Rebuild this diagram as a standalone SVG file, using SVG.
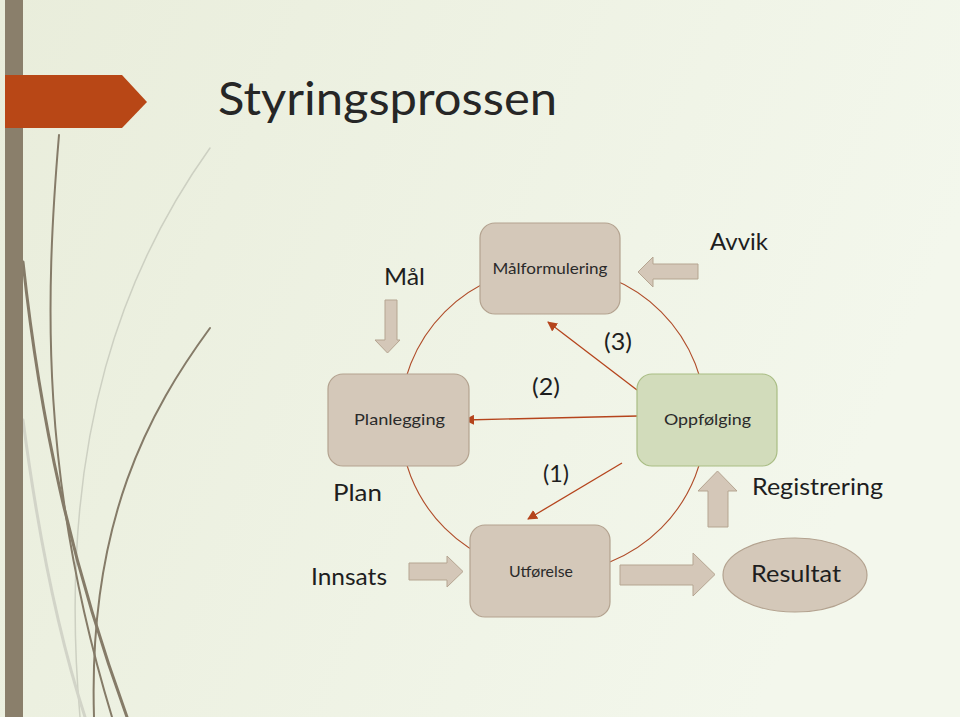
<svg xmlns="http://www.w3.org/2000/svg" width="960" height="717" viewBox="0 0 960 717">
<defs>
<linearGradient id="bg" x1="0" y1="0" x2="1" y2="0.3">
<stop offset="0" stop-color="#e9eddb"/>
<stop offset="1" stop-color="#f3f7ec"/>
</linearGradient>
<marker id="ah" viewBox="0 0 10 10" refX="9" refY="5" markerWidth="10" markerHeight="10" markerUnits="userSpaceOnUse" orient="auto">
<path d="M0,0 L10,5 L0,10 z" fill="#b5441c"/>
</marker>
<style>
.node{fill:#d4c8b9;stroke:#b3a28f;stroke-width:1.2}
.green{fill:#d2dcbb;stroke:#a9bd84;stroke-width:1.2}
.blk{fill:#d4c7b8;stroke:#b5a591;stroke-width:1}
.ntxt{font-family:Lato,"DejaVu Sans","Liberation Sans",sans-serif;font-size:15px;fill:#2a2a2a;text-anchor:middle}
.lbl{font-family:Lato,"DejaVu Sans","Liberation Sans",sans-serif;font-size:24px;fill:#1e1e1e}
.conn{stroke:#b5441c;stroke-width:1.3;fill:none}
.deco{fill:none;stroke-linecap:round}
</style>
</defs>
<rect width="960" height="717" fill="url(#bg)"/>
<g id="decoration">
<path class="deco" d="M210,148 C130,260 55,430 80,717" stroke="#cdd0c2" stroke-width="1.5"/>
<path class="deco" d="M23,420 C40,550 60,640 85,717" stroke="#d2d4c8" stroke-width="3"/>
<path class="deco" d="M59,135 C45,300 40,480 112,717" stroke="#857b68" stroke-width="2"/>
<path class="deco" d="M23,262 C40,420 70,560 127,717" stroke="#857b68" stroke-width="3"/>
<path class="deco" d="M210,328 C150,410 88,520 94,717" stroke="#857b68" stroke-width="2"/>
<rect x="5" y="0" width="18" height="717" fill="#8a7f6b"/>
<path d="M5,75 L122,75 L147,102 L122,128 L5,128 z" fill="#b84716"/>
</g>
<text id="title" x="218" y="115" font-family="Lato, DejaVu Sans, Liberation Sans, sans-serif" font-size="46" fill="#262626" textLength="339" lengthAdjust="spacingAndGlyphs">Styringsprossen</text>
<g id="connectors">
<circle cx="553" cy="420" r="153" fill="none" stroke="#b04d2a" stroke-width="1.1"/>
<line class="conn" x1="637" y1="390" x2="548" y2="322" marker-end="url(#ah)"/>
<line class="conn" x1="638" y1="416" x2="465" y2="420" marker-end="url(#ah)"/>
<line class="conn" x1="622" y1="463" x2="528" y2="519" marker-end="url(#ah)"/>
</g>
<g id="arrow-maal">
<path class="blk" d="M385,300 L397,300 L397,340 L400,340 L387.5,353 L375,340 L385,340 z"/>
</g>
<g id="arrow-avvik">
<path class="blk" d="M698,264 L653,264 L653,257 L638,272 L653,287 L653,279 L698,279 z"/>
</g>
<g id="arrow-registrering">
<path class="blk" d="M708,527 L708,491 L698,491 L717.5,471 L737,491 L728,491 L728,527 z"/>
</g>
<g id="arrow-innsats">
<path class="blk" d="M409,563 L447,563 L447,556 L463,571.5 L447,587 L447,580 L409,580 z"/>
</g>
<g id="arrow-resultat">
<path class="blk" d="M620,565 L693,565 L693,553 L715,574.5 L693,596 L693,585 L620,585 z"/>
</g>
<g id="node-maalformulering">
<rect class="node" x="480" y="223" width="140" height="91" rx="15"/>
<text class="ntxt" x="550" y="274" textLength="115" lengthAdjust="spacingAndGlyphs">Målformulering</text>
</g>
<g id="node-planlegging">
<rect class="node" x="328" y="374" width="141" height="92" rx="15"/>
<text class="ntxt" x="399.5" y="425" textLength="91" lengthAdjust="spacingAndGlyphs">Planlegging</text>
</g>
<g id="node-oppfolging">
<rect class="green" x="637" y="374" width="140" height="92" rx="15"/>
<text class="ntxt" x="707.5" y="425" textLength="87" lengthAdjust="spacingAndGlyphs">Oppfølging</text>
</g>
<g id="node-utforelse">
<rect class="node" x="470" y="525" width="140" height="92" rx="15"/>
<text class="ntxt" x="541" y="577" textLength="64" lengthAdjust="spacingAndGlyphs">Utførelse</text>
</g>
<g id="node-resultat">
<ellipse class="node" cx="795" cy="575" rx="72" ry="37"/>
<text class="lbl" x="796" y="582" text-anchor="middle" textLength="90" lengthAdjust="spacingAndGlyphs">Resultat</text>
</g>
<g id="labels">
<text class="lbl" x="384" y="285" textLength="41" lengthAdjust="spacingAndGlyphs">Mål</text>
<text class="lbl" x="710" y="250" textLength="58" lengthAdjust="spacingAndGlyphs">Avvik</text>
<text class="lbl" x="604" y="350" textLength="28" lengthAdjust="spacingAndGlyphs">(3)</text>
<text class="lbl" x="532" y="395" textLength="28" lengthAdjust="spacingAndGlyphs">(2)</text>
<text class="lbl" x="543" y="482" textLength="26" lengthAdjust="spacingAndGlyphs">(1)</text>
<text class="lbl" x="333" y="501" textLength="49" lengthAdjust="spacingAndGlyphs">Plan</text>
<text class="lbl" x="752" y="495" textLength="131" lengthAdjust="spacingAndGlyphs">Registrering</text>
<text class="lbl" x="311" y="585" textLength="76" lengthAdjust="spacingAndGlyphs">Innsats</text>
</g>
</svg>
